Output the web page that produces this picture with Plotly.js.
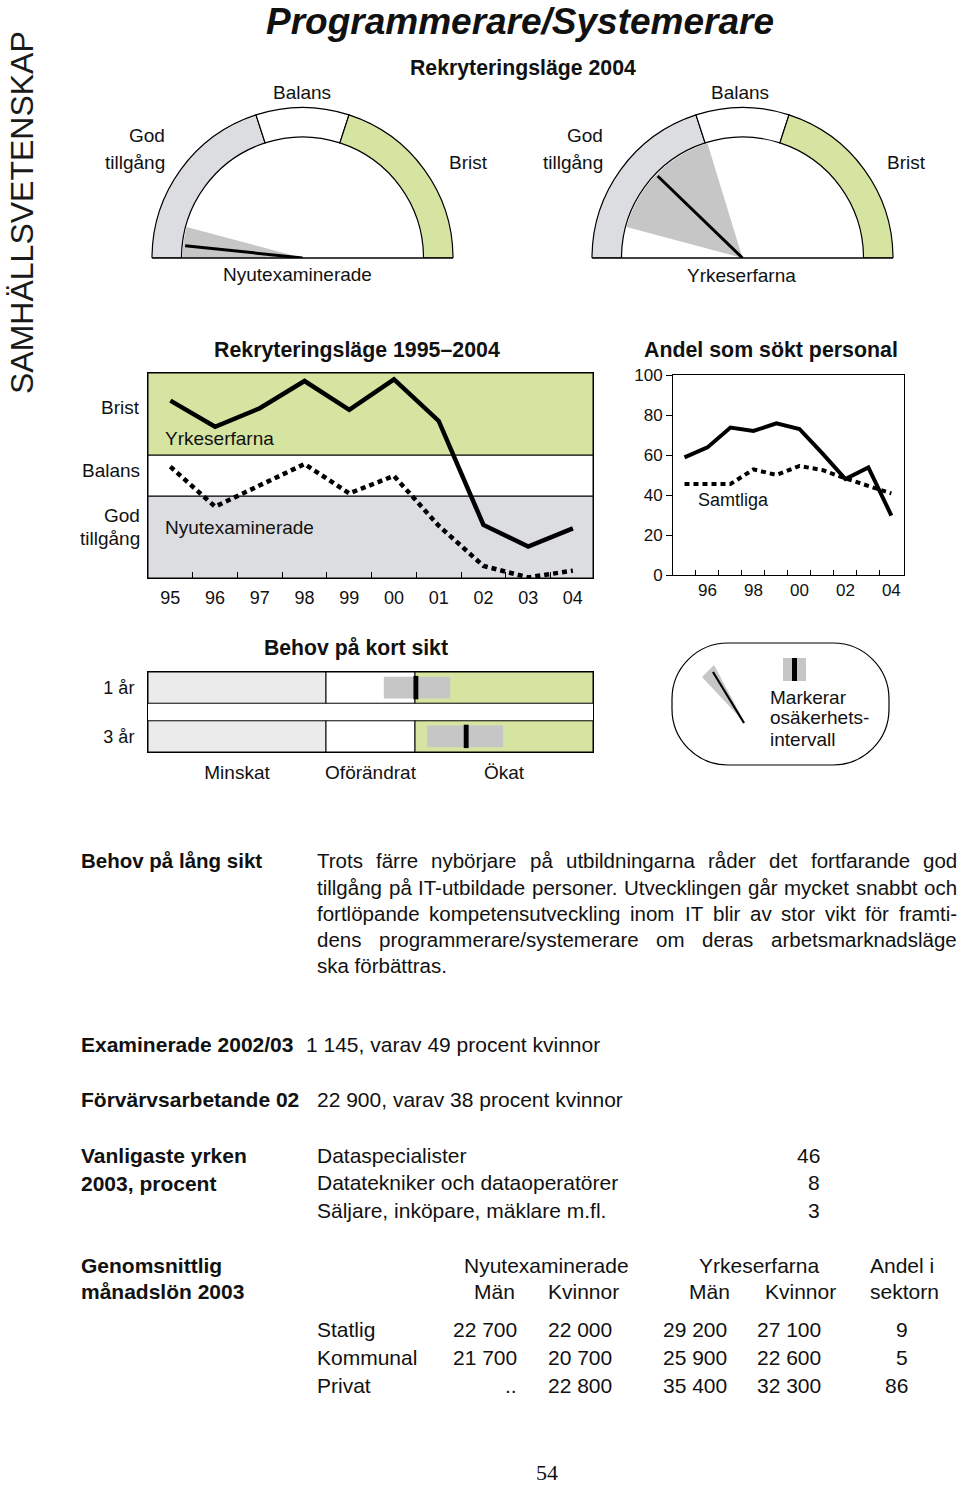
<!DOCTYPE html>
<html><head><meta charset="utf-8">
<script src="https://cdn.plot.ly/plotly-3.0.1.min.js"></script>
<style>html,body{margin:0;padding:0;background:#fff;}#chart{width:960px;height:1485px;}</style>
</head><body><div id="chart"></div>
<script>
// ================= DATA =================
const years = [1995,1996,1997,1998,1999,2000,2001,2002,2003,2004];
const yearLabels = ['95','96','97','98','99','00','01','02','03','04'];
// Rekryteringsläge 1995–2004 (scale: 0–4 God tillgång, 4–6 Balans, 6–10 Brist)
const rekrLevelEdges = [0,4,6,10];
const rekrLevels = ['God tillgång','Balans','Brist'];
const rekrYrkeserfarna = [8.65,7.38,8.28,9.61,8.20,9.69,7.66,2.59,1.53,2.42];
const rekrNyutexaminerade = [5.43,3.48,4.52,5.56,4.13,4.98,2.55,0.59,0.03,0.36];

// Andel som sökt personal (%)
const andelProgrammerare = [58.8,63.8,73.7,72.0,75.8,73.0,60.8,48.0,53.8,29.7];
const andelSamtliga = [45.5,45.5,45.5,52.8,50.0,54.5,52.5,48.3,44.5,40.8];
const andelTickVals = [1996,1998,2000,2002,2004];
const andelTickText = ['96','98','00','02','04'];
const andelYTicks = [0,20,40,60,80,100];

// Rekryteringsläge 2004 gauges (degrees from "God tillgång" side)
const gaugeEdges = [0,72,108,180];
const gaugeNyutex = {value:6, low:0, high:15};
const gaugeYrkes = {value:44, low:15, high:73};

// Behov på kort sikt (0–4 Minskat, 4–6 Oförändrat, 6–10 Ökat)
const kortSiktRows = ['1 år','3 år'];
const kortSiktEdges = [0,4,6,10];
const kortSiktCats = ['Minskat','Oförändrat','Ökat'];
const kortSiktEst = [6.02,7.15];
const kortSiktLow = [5.30,6.27];
const kortSiktHigh = [6.79,7.98];

// Fakta
const examinerade = 1145, examKvinnorPct = 49;
const forvarvsarbetande = 22900, forvKvinnorPct = 38;
const yrken = ['Dataspecialister','Datatekniker och dataoperatörer','Säljare, inköpare, mäklare m.fl.'];
const yrkenProcent = [46,8,3];
const sektorer = ['Statlig','Kommunal','Privat'];
const lonNyMan = [22700,21700,null];
const lonNyKvinnor = [22000,20700,22800];
const lonYrkMan = [29200,25900,35400];
const lonYrkKvinnor = [27100,22600,32300];
const andelSektor = [9,5,86];
const langSiktText = [
 'Trots färre nybörjare på utbildningarna råder det fortfarande god',
 'tillgång på IT-utbildade personer. Utvecklingen går mycket snabbt och',
 'fortlöpande kompetensutveckling inom IT blir av stor vikt för framti-',
 'dens programmerare/systemerare om deras arbetsmarknadsläge',
 'ska förbättras.'
];

// ================= HELPERS =================
const W = 960, H = 1485;
const X = px => px / W;
const Y = py => 1 - py / H;
const SANS = "'Liberation Sans', Arial, Helvetica, sans-serif";
const cv = document.createElement('canvas').getContext('2d');
function tw(t, size, fam, weight, style){ cv.font = `${style||'normal'} ${weight||400} ${size}px ${fam}`; return cv.measureText(t).width; }
const narrowOK = tw('Rekryteringsläge 1995', 50, "'Liberation Sans Narrow', monospace") !== tw('Rekryteringsläge 1995', 50, 'monospace');
const TFAM = narrowOK ? "'Liberation Sans Narrow', 'Liberation Sans', Arial, sans-serif" : SANS;
function fit(t, target, fam, weight, style){ return 100 * target / tw(t, 100, fam, weight, style); }
const fmt = n => n == null ? '..' : String(n).replace(/\B(?=(\d{3})+(?!\d))/g, ' ');

const C_GREEN = '#d5e4a1', C_GRAY = '#dcdde0', C_LIGHT = '#ebebeb', C_UNC = '#c6c6c6', INK = '#111';

const ann = [];
function txt(text, px, py, o = {}){
  ann.push({text: String(text), x: X(px), y: Y(py), xref: 'paper', yref: 'paper', showarrow: false,
    xanchor: o.xa || 'center', yanchor: o.ya || 'middle', textangle: o.angle || 0, borderpad: 0,
    font: {family: o.fam || SANS, size: o.size || 19, color: o.color || INK, weight: o.weight || 400, style: o.style || 'normal'}});
}
function title(t, cx, cy, width){ txt(t, cx, cy, {fam: TFAM, weight: 700, size: fit(t, width, TFAM, 700)}); }

const shapes = [];
function line(x0,y0,x1,y1,w,c){ shapes.push({type:'line', xref:'paper', yref:'paper', x0:X(x0), y0:Y(y0), x1:X(x1), y1:Y(y1), line:{color:c||'#000', width:w||1}}); }
const P = (px,py) => `${X(px)},${Y(py)}`;

const traces = [];

// ================= GAUGES =================
const GO = 150.5, GI = 121;
function gauge(subplot, g){
  const th = [], wd = [];
  for (let i = 0; i < 3; i++){ th.push((gaugeEdges[i] + gaugeEdges[i+1]) / 2); wd.push(gaugeEdges[i+1] - gaugeEdges[i]); }
  traces.push({type:'barpolar', subplot, theta:th, width:wd, r:th.map(()=>GO-GI), base:th.map(()=>GI),
    marker:{color:[C_GRAY,'#ffffff',C_GREEN], line:{color:'#000', width:1.2}}, hoverinfo:'skip'});
  traces.push({type:'barpolar', subplot, theta:[(g.low+g.high)/2], width:[g.high-g.low], r:[GI-1], base:[0],
    marker:{color:C_UNC, line:{width:0}}, hoverinfo:'skip'});
  traces.push({type:'scatterpolar', subplot, mode:'lines', r:[0, GI-3], theta:[g.value, g.value],
    line:{color:'#000', width:3}, hoverinfo:'skip'});
}
gauge('polar', gaugeNyutex);
gauge('polar2', gaugeYrkes);
line(152,258,453,258,1.3);
line(592,258,893,258,1.3);

// ================= REKRYTERINGSLÄGE 1995–2004 =================
const bandColors = [C_GRAY,'#ffffff',C_GREEN];
for (let i = 0; i < 3; i++){
  shapes.push({type:'rect', xref:'x domain', yref:'y', x0:0, x1:1, y0:rekrLevelEdges[i], y1:rekrLevelEdges[i+1],
    fillcolor:bandColors[i], line:{color:'#000', width:1}, layer:'below'});
}
traces.push({type:'scatter', mode:'lines', x:years, y:rekrYrkeserfarna, xaxis:'x', yaxis:'y',
  line:{color:'#000', width:4.5}, cliponaxis:false, hoverinfo:'skip'});
traces.push({type:'scatter', mode:'lines', x:years, y:rekrNyutexaminerade, xaxis:'x', yaxis:'y',
  line:{color:'#000', width:4.5, dash:'5px,4px'}, cliponaxis:false, hoverinfo:'skip'});

// ================= ANDEL SOM SÖKT PERSONAL =================
traces.push({type:'scatter', mode:'lines', x:years, y:andelProgrammerare, xaxis:'x2', yaxis:'y2',
  line:{color:'#000', width:4}, cliponaxis:false, hoverinfo:'skip'});
traces.push({type:'scatter', mode:'lines', x:years, y:andelSamtliga, xaxis:'x2', yaxis:'y2',
  line:{color:'#000', width:4, dash:'5px,4px'}, cliponaxis:false, hoverinfo:'skip'});

// ================= BEHOV PÅ KORT SIKT =================
const rowPos = kortSiktRows.map((_, i) => kortSiktRows.length - 1 - i);
const kColors = [C_LIGHT,'#ffffff',C_GREEN];
for (let i = 0; i < 3; i++){
  traces.push({type:'bar', orientation:'h', xaxis:'x3', yaxis:'y3', y:rowPos,
    base:rowPos.map(()=>kortSiktEdges[i]), x:rowPos.map(()=>kortSiktEdges[i+1]-kortSiktEdges[i]), width:0.64,
    marker:{color:kColors[i], line:{color:'#000', width:1}}, hoverinfo:'skip'});
}
traces.push({type:'bar', orientation:'h', xaxis:'x3', yaxis:'y3', y:rowPos, base:kortSiktLow,
  x:kortSiktHigh.map((h,i)=>h-kortSiktLow[i]), width:0.45, marker:{color:C_UNC, line:{width:0}}, hoverinfo:'skip'});
traces.push({type:'bar', orientation:'h', xaxis:'x3', yaxis:'y3', y:rowPos, base:kortSiktEst.map(v=>v-0.055),
  x:kortSiktEst.map(()=>0.11), width:0.48, marker:{color:'#000', line:{width:0}}, hoverinfo:'skip'});

// ================= LEGEND BOX =================
(function(){
  const x0=672,y0=643,x1=889,y1=765,r=56,k=0.5523*r;
  const p = `M${P(x0+r,y0)} L${P(x1-r,y0)} C${P(x1-r+k,y0)} ${P(x1,y0+r-k)} ${P(x1,y0+r)} L${P(x1,y1-r)} C${P(x1,y1-r+k)} ${P(x1-r+k,y1)} ${P(x1-r,y1)} L${P(x0+r,y1)} C${P(x0+r-k,y1)} ${P(x0,y1-r+k)} ${P(x0,y1-r)} L${P(x0,y0+r)} C${P(x0,y0+r-k)} ${P(x0+r-k,y0)} ${P(x0+r,y0)} Z`;
  shapes.push({type:'path', xref:'paper', yref:'paper', path:p, line:{color:'#000', width:1.2}, fillcolor:'rgba(0,0,0,0)'});
  shapes.push({type:'path', xref:'paper', yref:'paper', path:`M${P(745,723)} L${P(702,677)} L${P(714,665)} Z`, line:{width:0}, fillcolor:C_UNC});
  line(713,672,744,723,2.2);
  shapes.push({type:'rect', xref:'paper', yref:'paper', x0:X(783), x1:X(806), y0:Y(681), y1:Y(658), line:{width:0}, fillcolor:C_UNC});
  shapes.push({type:'rect', xref:'paper', yref:'paper', x0:X(792), x1:X(797), y0:Y(681), y1:Y(658), line:{width:0}, fillcolor:'#000'});
  txt('Markerar', 769, 697, {xa:'left'});
  txt('osäkerhets-', 769, 718, {xa:'left'});
  txt('intervall', 769, 739, {xa:'left'});
})();

// ================= TEXTS =================
txt('SAMHÄLLSVETENSKAP', 22, 213, {angle:-90, size:32, color:'#1a1a1a'});
const mainTitle = 'Programmerare/Systemerare';
txt(mainTitle, 520, 0, {ya:'top', fam:TFAM, weight:700, style:'italic', size:Math.min(37, fit(mainTitle, 519, TFAM, 700, 'italic'))});
title('Rekryteringsläge 2004', 523, 68, 226);
title('Rekryteringsläge 1995–2004', 357, 350, 286);
title('Andel som sökt personal', 771, 350, 254);
title('Behov på kort sikt', 356, 648, 184);

// gauge labels
txt('Balans', 302, 92); txt('God', 166, 135, {xa:'right'}); txt('tillgång', 166, 162, {xa:'right'});
txt('Brist', 448, 162, {xa:'left'}); txt('Nyutexaminerade', 297, 274);
txt('Balans', 740, 92); txt('God', 604, 135, {xa:'right'}); txt('tillgång', 604, 162, {xa:'right'});
txt('Brist', 886, 162, {xa:'left'}); txt('Yrkeserfarna', 741, 276);

// line chart labels
txt('Brist', 141, 407, {xa:'right'}); txt('Balans', 141, 470, {xa:'right'});
txt('God', 141, 515, {xa:'right'}); txt('tillgång', 141, 538, {xa:'right'});
txt('Yrkeserfarna', 164, 438, {xa:'left'}); txt('Nyutexaminerade', 164, 527, {xa:'left'});
txt('Samtliga', 697, 500, {xa:'left', size:18});

// Behov på lång sikt
const BS = 20.5;
txt('Behov på lång sikt', 80, 861, {xa:'left', weight:700, size:BS});
langSiktText.forEach((ln, li) => {
  const py = 861 + li * 26;
  if (li === langSiktText.length - 1){ txt(ln, 316, py, {xa:'left', size:BS}); return; }
  const words = ln.split(' ');
  const ws = words.map(w => tw(w, BS, SANS, 400));
  const gap = Math.max(3, (956 - 316 - ws.reduce((a,b)=>a+b,0)) / (words.length - 1));
  let x = 316;
  words.forEach((w, i) => { txt(w, x, py, {xa:'left', size:BS}); x += ws[i] + gap; });
});

const FS = 21;
txt('Examinerade 2002/03', 80, 1044, {xa:'left', weight:700, size:FS});
txt(`${fmt(examinerade)}, varav ${examKvinnorPct} procent kvinnor`, 305, 1044, {xa:'left', size:FS});
txt('Förvärvsarbetande 02', 80, 1099, {xa:'left', weight:700, size:FS});
txt(`${fmt(forvarvsarbetande)}, varav ${forvKvinnorPct} procent kvinnor`, 316, 1099, {xa:'left', size:FS});
txt('Vanligaste yrken', 80, 1155, {xa:'left', weight:700, size:FS});
txt('2003, procent', 80, 1183, {xa:'left', weight:700, size:FS});
yrken.forEach((y, i) => {
  txt(y, 316, 1155 + i * 27.5, {xa:'left', size:FS});
  txt(yrkenProcent[i], 821, 1155 + i * 27.5, {xa:'right', size:FS});
});
txt('Genomsnittlig', 80, 1265, {xa:'left', weight:700, size:FS});
txt('månadslön 2003', 80, 1291, {xa:'left', weight:700, size:FS});
txt('Nyutexaminerade', 546, 1265, {size:FS});
txt('Yrkeserfarna', 759, 1265, {size:FS});
txt('Andel i', 869, 1265, {xa:'left', size:FS});
txt('Män', 516, 1291, {xa:'right', size:FS});
txt('Kvinnor', 620, 1291, {xa:'right', size:FS});
txt('Män', 731, 1291, {xa:'right', size:FS});
txt('Kvinnor', 837, 1291, {xa:'right', size:FS});
txt('sektorn', 869, 1291, {xa:'left', size:FS});
const colRight = [518, 613, 728, 822, 909];
sektorer.forEach((s, i) => {
  const py = 1329 + i * 28;
  txt(s, 316, py, {xa:'left', size:FS});
  [lonNyMan[i], lonNyKvinnor[i], lonYrkMan[i], lonYrkKvinnor[i], andelSektor[i]].forEach((v, j) => {
    txt(fmt(v), colRight[j], py, {xa:'right', size:FS});
  });
});
txt('54', 547, 1472, {fam:"'Liberation Serif', 'Times New Roman', serif", size:22});

// ================= LAYOUT =================
const halfYears = years.slice(0, -1).map(y => y + 0.5);
const axBase = {showgrid:false, zeroline:false, showline:true, mirror:true, linecolor:'#000', linewidth:1, fixedrange:true,
  tickfont:{family:SANS, size:18, color:INK}};
const layout = {
  width:W, height:H, margin:{l:0,r:0,t:0,b:0}, paper_bgcolor:'#fff', plot_bgcolor:'rgba(0,0,0,0)',
  showlegend:false, barmode:'overlay', font:{family:SANS, color:INK},
  polar:{domain:{x:[X(150.5),X(454.5)], y:[Y(258),Y(106)]}, sector:[0,180], bgcolor:'rgba(0,0,0,0)',
    radialaxis:{visible:false, range:[0,152]}, angularaxis:{visible:false, rotation:180, direction:'clockwise'}},
  polar2:{domain:{x:[X(590.5),X(894.5)], y:[Y(258),Y(106)]}, sector:[0,180], bgcolor:'rgba(0,0,0,0)',
    radialaxis:{visible:false, range:[0,152]}, angularaxis:{visible:false, rotation:180, direction:'clockwise'}},
  xaxis:Object.assign({}, axBase, {domain:[X(148),X(593)], range:[1994.5,2004.45], anchor:'y',
    tickmode:'array', tickvals:years, ticktext:yearLabels, ticks:'', ticklabelstandoff:3,
    minor:{tickmode:'array', tickvals:halfYears, ticks:'inside', ticklen:6, tickcolor:'#000', tickwidth:1, showgrid:false}}),
  yaxis:Object.assign({}, axBase, {domain:[Y(578),Y(373)], range:[0,10], anchor:'x', showticklabels:false, ticks:''}),
  xaxis2:Object.assign({}, axBase, {domain:[X(673),X(904)], range:[1994.5,2004.55], anchor:'y2',
    tickmode:'array', tickvals:andelTickVals, ticktext:andelTickText, ticks:'', ticklabelstandoff:0,
    tickfont:{family:SANS, size:17, color:INK},
    minor:{tickmode:'array', tickvals:halfYears, ticks:'inside', ticklen:5, tickcolor:'#000', tickwidth:1, showgrid:false}}),
  yaxis2:Object.assign({}, axBase, {domain:[Y(575),Y(375)], range:[0,100], anchor:'x2',
    tickmode:'array', tickvals:andelYTicks, ticks:'outside', ticklen:6, tickcolor:'#000',
    tickfont:{family:SANS, size:17, color:INK}}),
  xaxis3:Object.assign({}, axBase, {domain:[X(148),X(593)], range:[0,10], anchor:'y3',
    tickmode:'array', tickvals:kortSiktCats.map((_,i)=>(kortSiktEdges[i]+kortSiktEdges[i+1])/2), ticktext:kortSiktCats,
    ticks:'', ticklabelstandoff:3, tickfont:{family:SANS, size:19, color:INK}}),
  yaxis3:Object.assign({}, axBase, {domain:[Y(752),Y(672)], range:[-0.32,1.32], anchor:'x3',
    tickmode:'array', tickvals:rowPos, ticktext:kortSiktRows, ticks:'', ticklabelstandoff:9,
    tickfont:{family:SANS, size:18, color:INK}}),
  shapes, annotations: ann
};
Plotly.newPlot('chart', traces, layout, {displayModeBar:false, staticPlot:true});
</script></body></html>
